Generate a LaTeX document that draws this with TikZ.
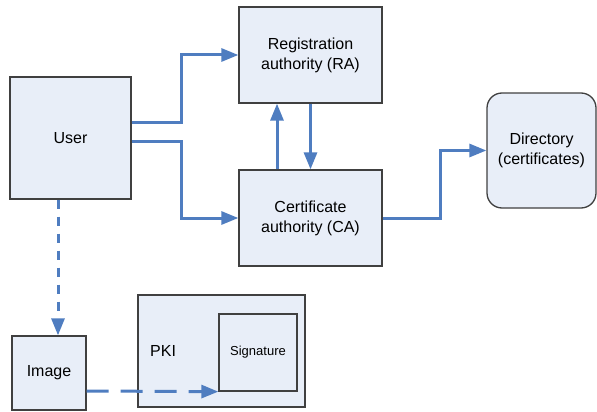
\documentclass[tikz,border=0pt]{standalone}
\usepackage{fontspec}
\setmainfont{Liberation Sans}
\usetikzlibrary{arrows.meta}
\definecolor{boxfill}{RGB}{232,238,248}
\definecolor{boxline}{RGB}{64,64,64}
\definecolor{arrblue}{RGB}{79,125,192}
\begin{document}
\begin{tikzpicture}[x=1pt,y=-1pt,
  box/.style={draw=boxline,line width=1.3pt,fill=boxfill,inner sep=0pt,align=center,
    font=\fontsize{16}{20}\selectfont},
  arr/.style={draw=arrblue,line width=3pt,-{Triangle[length=17pt,width=13pt]}},
  vdash/.style={arr,dash pattern=on 9pt off 8pt},
  hdash/.style={arr,dash pattern=on 22pt off 12pt}]
\useasboundingbox (0,0) rectangle (597,412);
\node[box,minimum width=121pt,minimum height=122pt] (user) at (70.5,138) {User};
\node[box,minimum width=143pt,minimum height=96pt] (ra) at (310.5,55) {Registration\\authority (RA)};
\node[box,minimum width=143pt,minimum height=96pt] (ca) at (310.5,218) {Certificate\\authority (CA)};
\node[box,rounded corners=15pt,minimum width=109pt,minimum height=115pt] (dir) at (541.5,150.5) {Directory\\(certificates)};
\node[box,minimum width=74pt,minimum height=74pt] (img) at (49,373) {Image};
\node[box,minimum width=167pt,minimum height=112pt] (pki) at (221.5,351) {};
\node[font=\fontsize{16}{20}\selectfont,anchor=west,inner sep=0pt] (pkil) at (150,351) {PKI};
\node[box,minimum width=78pt,minimum height=77pt,font=\fontsize{13}{16}\selectfont] (sig) at (258,352.5) {Signature};
\draw[arr] ([yshift=16pt]user.east) -- ++(50,0) |- (ra.west);
\draw[arr] ([yshift=-3pt]user.east) -- ++(50,0) |- (ca.west);
\draw[arr] ([xshift=-33.5pt]ca.north) -- ([xshift=-33.5pt]ra.south);
\draw[arr] (ra.south) -- (ca.north);
\draw[arr] (ca.east) -- ++(58,0) |- (dir.west);
\draw[vdash] ([xshift=-12.5pt]user.south) -- ([xshift=-12.5pt]user.south |- img.north);
\draw[hdash] ([yshift=-18pt]img.east) -- (sig.south west);
\end{tikzpicture}
\end{document}
